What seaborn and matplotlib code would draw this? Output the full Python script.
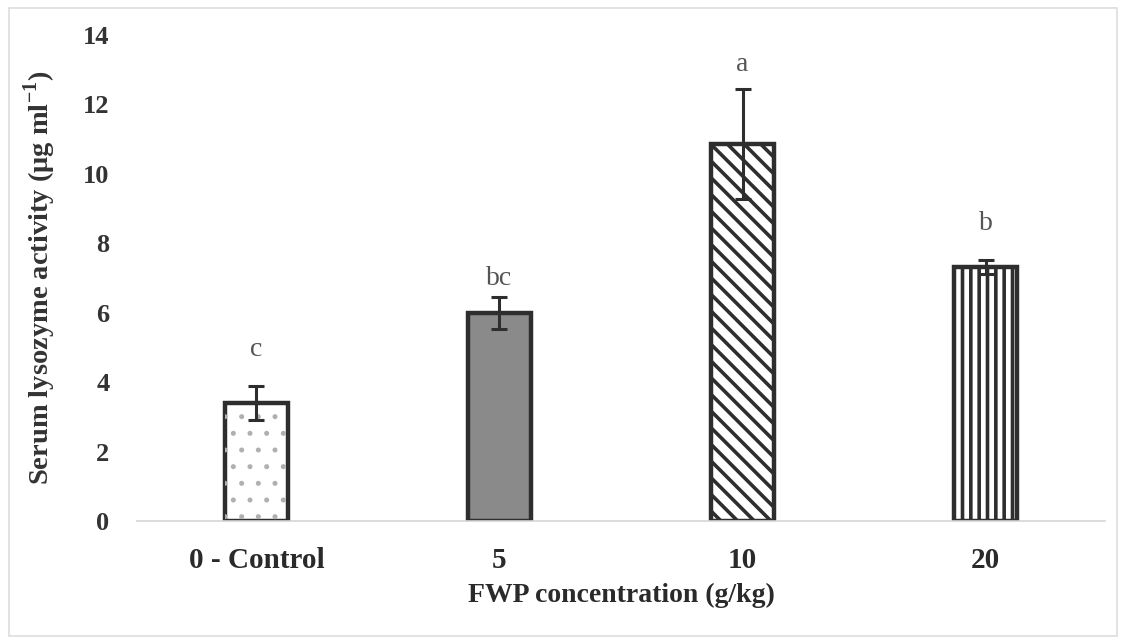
import matplotlib
matplotlib.use("Agg")
import matplotlib.pyplot as plt
import seaborn as sns
import pandas as pd
from matplotlib.patches import Rectangle

categories = ["0 - Control", "5", "10", "20"]
values = [3.4, 6.0, 10.85, 7.32]
errors = [0.5, 0.46, 1.58, 0.2]
letters = ["c", "bc", "a", "b"]
letter_y = [4.93, 6.97, 13.14, 8.56]
yticks = [0, 2, 4, 6, 8, 10, 12, 14]

sns.set_theme(style="white")
plt.rcParams['font.family'] = ['Liberation Serif', 'DejaVu Serif']
plt.rcParams['hatch.linewidth'] = 2.6

df = pd.DataFrame({"cat": categories, "val": values})

fig = plt.figure(figsize=(11.26, 6.44), dpi=100)
ax = fig.add_axes([0.122, 0.191, 0.859, 0.755])

faces = ["white", "#8a8a8a", "white", "white"]
hatches = ["", "", "\\\\", "||"]
edge = "#2e2e2e"
sns.barplot(data=df, x="cat", y="val", ax=ax, width=0.258, errorbar=None,
            palette=faces, hue="cat", legend=False, edgecolor=edge, linewidth=3.2)
bars = list(ax.patches)
for p, h in zip(bars, hatches):
    p.set_hatch(h)
    p.set_edgecolor(edge)

# sparse grey dots for the control bar (overlay using the bar's own geometry)
b0 = bars[0]
with plt.rc_context({'hatch.linewidth': 1.2}):
    dots = Rectangle(b0.get_xy(), b0.get_width(), b0.get_height(), facecolor="none",
                     edgecolor="#b0b0b0", linewidth=0, hatch=".", zorder=b0.get_zorder() + 0.1)
if hasattr(dots, "set_hatch_linewidth"):
    dots.set_hatch_linewidth(1.2)
ax.add_patch(dots)

ax.errorbar(range(len(categories)), values, yerr=errors, fmt="none",
            ecolor=edge, elinewidth=2.2, capsize=6, capthick=2.2, zorder=1.5)

for i, (ly, l) in enumerate(zip(letter_y, letters)):
    ax.text(i, ly, l, ha="center", va="center", fontsize=20, color="#555555")

ax.set_ylim(0, 14)
ax.set_xlim(-0.49, 3.49)
ax.set_yticks(yticks)
ax.set_yticklabels([str(t) for t in yticks], fontsize=19, fontweight="bold", color="#333333")
ax.set_xticks(range(len(categories)))
ax.set_xticklabels(categories, fontsize=21, fontweight="bold", color="#2a2a2a")
ax.tick_params(axis="y", length=0, pad=20)
ax.tick_params(axis="x", length=0, pad=19)
ax.set_xlabel("FWP concentration (g/kg)", fontsize=20, fontweight="bold", color="#2a2a2a", labelpad=6)
ax.set_ylabel("Serum lysozyme activity (μg ml$^{\\mathregular{-1}}$)", fontsize=20.5, fontweight="bold",
              color="#333333", labelpad=18)
for s in ["top", "right", "left"]:
    ax.spines[s].set_visible(False)
ax.spines["bottom"].set_color("#d5d5d5")
ax.spines["bottom"].set_linewidth(1.2)

fig.patches.append(Rectangle((0.008, 0.012), 0.984, 0.976, transform=fig.transFigure,
                             fill=False, edgecolor="#dddddd", linewidth=1.2))

fig.savefig("out.png", dpi=100)
